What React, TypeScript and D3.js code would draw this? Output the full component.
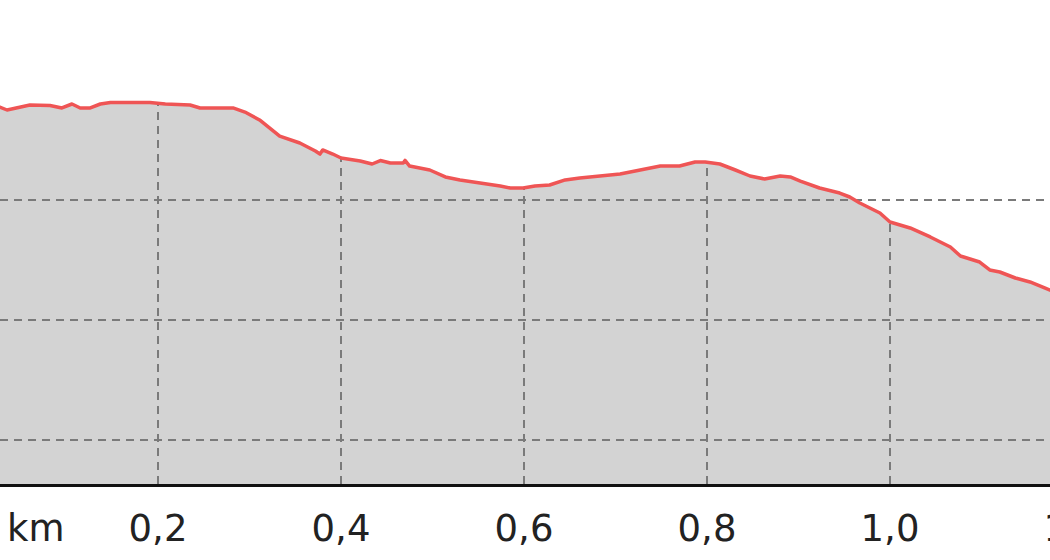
import React from "react";
import * as d3 from "d3";

const distanceKm = [
  0.0, 0.027, 0.035, 0.06, 0.082, 0.095, 0.106, 0.115, 0.126, 0.137, 0.148, 0.191, 0.208, 0.235,
  0.246, 0.282, 0.295, 0.311, 0.333, 0.355, 0.372, 0.377, 0.38, 0.391, 0.4, 0.421, 0.434, 0.443,
  0.454, 0.468, 0.47, 0.475, 0.497, 0.514, 0.53, 0.552, 0.574, 0.585, 0.599, 0.612, 0.628, 0.645,
  0.661, 0.683, 0.705, 0.727, 0.749, 0.77, 0.787, 0.798, 0.814, 0.831, 0.847, 0.863, 0.88, 0.891,
  0.902, 0.923, 0.945, 0.956, 0.967, 0.989, 1.0, 1.022, 1.044, 1.066, 1.077, 1.098, 1.109, 1.12,
  1.137, 1.153, 1.169, 1.186,
];
const elevation = [
  237.75, 237.75, 237.5, 237.92, 237.88, 237.67, 238.0, 237.67, 237.67, 238.0, 238.13, 238.13, 238.0, 237.92,
  237.67, 237.67, 237.33, 236.67, 235.33, 234.75, 234.08, 233.83, 234.17, 233.83, 233.5, 233.25, 233.0, 233.29,
  233.08, 233.08, 233.3, 232.83, 232.5, 231.92, 231.67, 231.42, 231.17, 231.0, 231.0, 231.17, 231.25, 231.67,
  231.83, 232.0, 232.17, 232.5, 232.83, 232.83, 233.17, 233.17, 233.0, 232.5, 232.0, 231.75, 232.0, 231.92,
  231.58, 231.0, 230.58, 230.25, 229.75, 228.92, 228.17, 227.67, 226.92, 226.08, 225.33, 224.83, 224.17, 224.0,
  223.5, 223.17, 222.67, 222.17,
];
const xTicks = [0.2, 0.4, 0.6, 0.8, 1.0, 1.2];
const xTickLabels = ["0,2", "0,4", "0,6", "0,8", "1,0", "1,2"];
const yTicks = [210, 220, 230];
const unitLabel = "km";

const W = 1050;
const H = 560;
const AXIS_Y = 485.5;

export default function App() {
  const x = d3.scaleLinear().domain([0, 1.2]).range([-25, 1073]);
  const y = d3.scaleLinear().domain([210, 230]).range([440, 200]);
  const pts = distanceKm.map((d, i) => [d, elevation[i]] as [number, number]);
  const area = d3
    .area<[number, number]>()
    .x((d) => x(d[0]))
    .y0(AXIS_Y)
    .y1((d) => y(d[1]))(pts) as string;
  const line = d3
    .line<[number, number]>()
    .x((d) => x(d[0]))
    .y((d) => y(d[1]))(pts) as string;
  const font = "'DejaVu Sans', Verdana, sans-serif";
  return (
    <div style={{ position: "absolute", left: 0, top: 0 }}>
      <svg width={W} height={H} style={{ display: "block", background: "#fff" }}>
        <defs>
          <clipPath id="areaClip">
            <path d={area} />
          </clipPath>
        </defs>
        <path d={area} fill="#d3d3d3" />
        {yTicks.map((t) => (
          <line
            key={t}
            x1={0}
            x2={W}
            y1={y(t)}
            y2={y(t)}
            stroke="#7a7a7a"
            strokeWidth={2}
            strokeDasharray="8,6"
          />
        ))}
        <g clipPath="url(#areaClip)">
          {xTicks.map((t) => (
            <line
              key={t}
              x1={x(t)}
              x2={x(t)}
              y1={0}
              y2={AXIS_Y}
              stroke="#7a7a7a"
              strokeWidth={2}
              strokeDasharray="8,6"
            />
          ))}
        </g>
        <path d={line} fill="none" stroke="#ef5555" strokeWidth={3.5} strokeLinejoin="round" />
        <line x1={0} x2={W} y1={AXIS_Y} y2={AXIS_Y} stroke="#111" strokeWidth={3} />
        {xTicks.map((t, i) => (
          <text
            key={t}
            x={x(t)}
            y={541}
            textAnchor="middle"
            fontFamily={font}
            fontSize={37}
            fill="#222"
          >
            {xTickLabels[i]}
          </text>
        ))}
        <text x={7} y={541} fontFamily={font} fontSize={37} fill="#222">
          {unitLabel}
        </text>
      </svg>
    </div>
  );
}
